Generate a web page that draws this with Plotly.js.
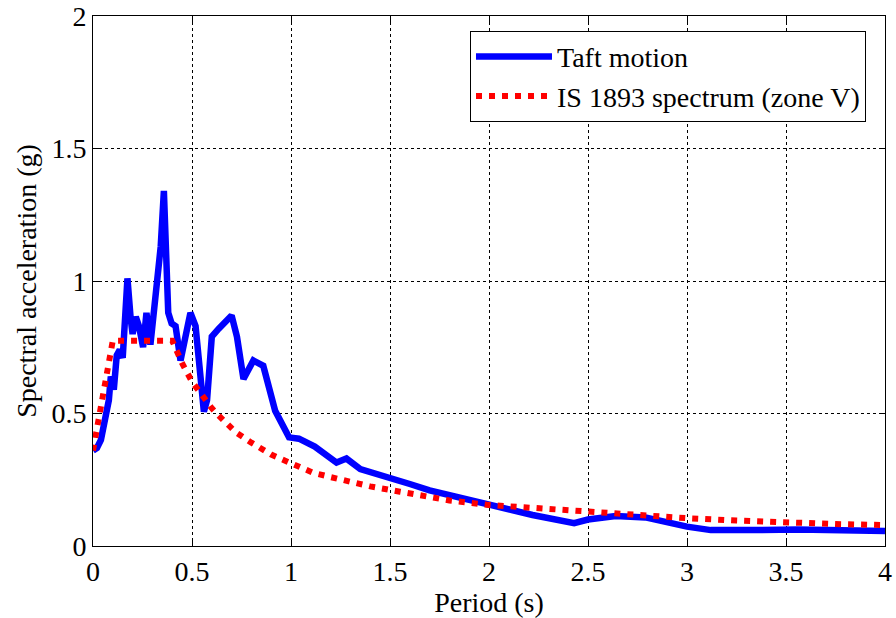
<!DOCTYPE html>
<html>
<head>
<meta charset="utf-8">
<script src="https://cdn.plot.ly/plotly-3.0.1.min.js"></script>
<style>html,body{margin:0;padding:0;background:#fff;}#chart{width:896px;height:618px;}</style>
</head>
<body>
<div id="chart"></div>
<script>
// Taft motion response spectrum (period s, Sa g)
const taftPeriod = [0, 0.02, 0.04, 0.06, 0.08, 0.09, 0.105, 0.12, 0.135, 0.15, 0.174, 0.19, 0.2, 0.216, 0.232, 0.253, 0.27, 0.29, 0.317, 0.342, 0.358, 0.367, 0.38, 0.397, 0.417, 0.442, 0.467, 0.492, 0.518, 0.543, 0.56, 0.576, 0.6, 0.635, 0.7, 0.727, 0.76, 0.81, 0.86, 0.92, 0.97, 0.99, 1.04, 1.12, 1.23, 1.28, 1.35, 1.45, 1.6, 1.7, 2.0, 2.22, 2.43, 2.5, 2.64, 2.79, 3.0, 3.12, 3.34, 3.56, 4.0];
const taftSa = [0.36, 0.37, 0.40, 0.47, 0.55, 0.64, 0.59, 0.72, 0.74, 0.71, 1.01, 0.86, 0.80, 0.865, 0.83, 0.75, 0.88, 0.76, 0.94, 1.13, 1.34, 1.19, 0.88, 0.84, 0.83, 0.70, 0.79, 0.88, 0.83, 0.615, 0.507, 0.55, 0.79, 0.82, 0.87, 0.79, 0.63, 0.70, 0.68, 0.51, 0.44, 0.41, 0.405, 0.375, 0.315, 0.33, 0.29, 0.27, 0.234, 0.21, 0.155, 0.117, 0.086, 0.10, 0.113, 0.108, 0.073, 0.06, 0.06, 0.062, 0.057];

// IS 1893 design spectrum (zone V)
const isPeriod = [0, 0.1, 0.4, 0.45, 0.5, 0.55, 0.6, 0.62, 0.7, 0.72, 0.8, 0.83, 0.9, 1.0, 1.11, 1.2, 1.35, 1.4, 1.55, 1.8, 2.0, 2.385, 2.5, 3.0, 3.25, 3.51, 3.75, 4.0];
const isSa = [0.36, 0.775, 0.775, 0.69, 0.62, 0.565, 0.52, 0.503, 0.44, 0.43, 0.39, 0.375, 0.345, 0.312, 0.277, 0.26, 0.234, 0.225, 0.205, 0.172, 0.155, 0.136, 0.125, 0.105, 0.096, 0.088, 0.083, 0.079];

const xTicks = [0, 0.5, 1, 1.5, 2, 2.5, 3, 3.5, 4];
const xTickText = ['0', '0.5', '1', '1.5', '2', '2.5', '3', '3.5', '4'];
const yTicks = [0, 0.5, 1, 1.5, 2];
const yTickText = ['0', '0.5', '1', '1.5', '2'];

const fontFam = 'Liberation Serif';
const fs = 28;

const traces = [
  {x: taftPeriod, y: taftSa, type: 'scatter', mode: 'lines', name: 'Taft motion',
   line: {color: '#0000ff', width: 6.5}},
  {x: isPeriod, y: isSa, type: 'scatter', mode: 'lines', name: 'IS 1893 spectrum (zone V)',
   line: {color: '#ff0000', width: 6, dash: '6px,7px'}}
];

const axCommon = {
  showline: true, linecolor: '#000', linewidth: 1, mirror: 'ticks',
  ticks: 'inside', ticklen: 6, tickcolor: '#000', tickwidth: 1,
  showgrid: true, gridcolor: '#000', gridwidth: 1, griddash: 'dot',
  zeroline: false, tickfont: {family: fontFam, size: fs, color: '#000'}
};

const layout = {
  width: 896, height: 618,
  margin: {l: 93, r: 11, t: 16, b: 72},
  paper_bgcolor: '#fff', plot_bgcolor: '#fff',
  font: {family: fontFam, size: fs, color: '#000'},
  showlegend: true,
  legend: {x: 0.476, y: 0.972, xanchor: 'left', yanchor: 'top',
           bordercolor: '#000', borderwidth: 1, bgcolor: '#fff',
           itemwidth: 76, font: {family: fontFam, size: fs, color: '#000'},
           tracegroupgap: 0},
  xaxis: Object.assign({}, axCommon, {
    range: [0, 4], tickmode: 'array', tickvals: xTicks, ticktext: xTickText,
    title: {text: 'Period (s)', font: {family: fontFam, size: fs, color: '#000'}, standoff: 2}
  }),
  yaxis: Object.assign({}, axCommon, {
    range: [0, 2], tickmode: 'array', tickvals: yTicks, ticktext: yTickText,
    title: {text: 'Spectral acceleration (g)', font: {family: fontFam, size: fs, color: '#000'}, standoff: 6}
  })
};

Plotly.newPlot('chart', traces, layout, {displayModeBar: false, staticPlot: true});
</script>
</body>
</html>
